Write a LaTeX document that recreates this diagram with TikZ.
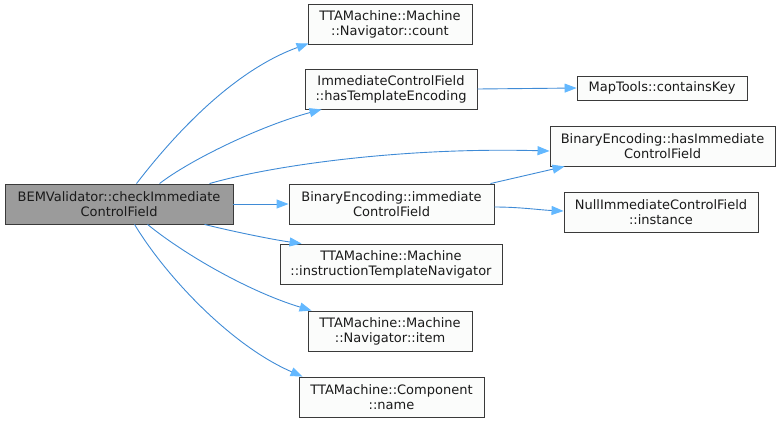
\documentclass[tikz,border=0pt]{standalone}
\usepackage{fontspec}
\setmainfont{DejaVu Sans}
\usetikzlibrary{arrows.meta,calc}
\definecolor{edgecol}{HTML}{3F8BD6}
\definecolor{headcol}{HTML}{63B8FF}
\definecolor{boxborder}{HTML}{3A3A3A}
\definecolor{boxfill}{HTML}{FBFCFB}
\definecolor{mainfill}{HTML}{9B9B9B}
\definecolor{txt}{HTML}{1A1A1A}
\tikzset{
  fnbox/.style={draw=boxborder, fill=boxfill, line width=0.9pt, inner sep=0pt, align=center,
    text=txt, font=\fontsize{13}{15}\selectfont},
  mainbox/.style={fnbox, fill=mainfill},
  call/.style={draw=edgecol, line width=0.9pt, -{Triangle[length=12pt,width=9pt,color=headcol,fill=headcol]}}
}
\begin{document}
\begin{tikzpicture}[x=1pt,y=-1pt]
\useasboundingbox (0,0) rectangle (781,421);
\node[mainbox, minimum width=228, minimum height=40] (main) at (119,204) {BEMValidator::checkImmediate\\ControlField};
\node[fnbox, minimum width=164, minimum height=40] (count) at (390,24) {TTAMachine::Machine\\::Navigator::count};
\node[fnbox, minimum width=172, minimum height=40] (hasTE) at (391,89) {ImmediateControlField\\::hasTemplateEncoding};
\node[fnbox, minimum width=170, minimum height=24] (contains) at (662,88) {MapTools::containsKey};
\node[fnbox, minimum width=225, minimum height=40] (hasICF) at (662.5,146) {BinaryEncoding::hasImmediate\\ControlField};
\node[fnbox, minimum width=205, minimum height=40] (beimm) at (391.5,204) {BinaryEncoding::immediate\\ControlField};
\node[fnbox, minimum width=194, minimum height=40] (null) at (661,212) {NullImmediateControlField\\::instance};
\node[fnbox, minimum width=222, minimum height=40] (itn) at (391,264) {TTAMachine::Machine\\::instructionTemplateNavigator};
\node[fnbox, minimum width=164, minimum height=40] (item) at (390,331) {TTAMachine::Machine\\::Navigator::item};
\node[fnbox, minimum width=185, minimum height=40] (name) at (391.5,397) {TTAMachine::Component\\::name};

\draw[call] ($(main.north west)+(132,0)$) .. controls (170,140) and (230,72) .. ($(count.south west)+(1,-1)$);
\draw[call] ($(main.north west)+(155,0)$) .. controls (190,160) and (260,126) .. ($(hasTE.south west)+(17,0)$);
\draw[call] ($(main.north west)+(205,0)$) .. controls (270,166) and (400,147) .. ($(hasICF.west)+(0,5)$);
\draw[call] (main.east) -- (beimm.west);
\draw[call] ($(main.south west)+(200,0)$) .. controls (235,232) and (275,240) .. ($(itn.north west)+(22,0)$);
\draw[call] ($(main.south west)+(143,0)$) .. controls (185,255) and (250,292) .. ($(item.north west)+(4,0)$);
\draw[call] ($(main.south west)+(130,0)$) .. controls (165,275) and (230,345) .. ($(name.north west)+(4,0)$);
\draw[call] (hasTE.east) -- (contains.west);
\draw[call] ($(beimm.north east)+(-4,0)$) -- ($(hasICF.south west)+(15,0)$);
\draw[call] ($(beimm.east)+(0,3)$) .. controls (520,207) and (540,210) .. ($(null.west)+(0,-1)$);
\end{tikzpicture}
\end{document}
